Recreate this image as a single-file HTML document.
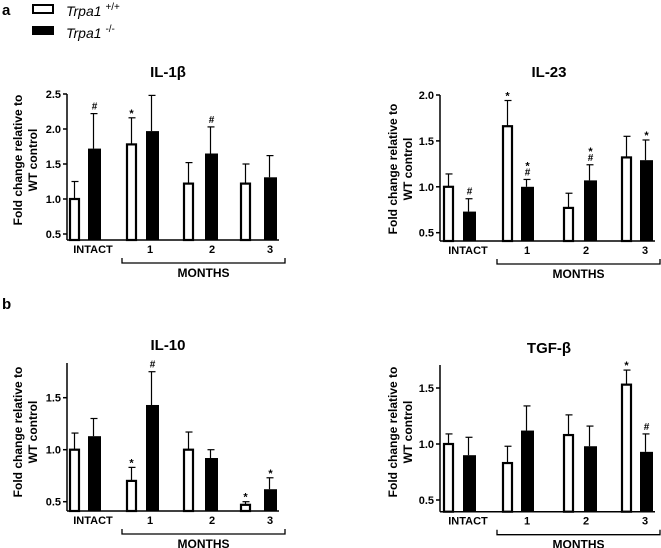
<!DOCTYPE html>
<html><head><meta charset="utf-8">
<style>
body{margin:0;background:#fff;}
svg{display:block;font-family:"Liberation Sans",Arial,sans-serif;}
</style></head>
<body>
<svg id="c" width="661" height="548" viewBox="0 0 661 548">
<text x="2" y="15" font-size="15" font-weight="bold">a</text>
<text x="2" y="309" font-size="15" font-weight="bold">b</text>
<g>
<rect x="33" y="5" width="20" height="8" fill="#fff" stroke="#000" stroke-width="2"/>
<text x="66" y="16" font-size="14" font-style="italic">Trpa1 <tspan font-size="10" dy="-6" font-style="normal">+/+</tspan></text>
<rect x="32" y="26" width="22" height="9" fill="#000"/>
<text x="66" y="38" font-size="14" font-style="italic">Trpa1 <tspan font-size="10" dy="-6" font-style="normal">-/-</tspan></text>
</g>
</svg>
<script>
// IL-1β
const il1bWT=[1.0,1.78,1.22,1.22];
const il1bWTerr=[0.25,0.38,0.30,0.28];
const il1bKO=[1.72,1.97,1.65,1.31];
const il1bKOerr=[0.50,0.51,0.38,0.31];
const il1bWTmark=["","*","",""];
const il1bKOmark=["#","","#",""];
const il1bTicks=[0.5,1.0,1.5,2.0,2.5];
// IL-23
const il23WT=[1.0,1.66,0.77,1.32];
const il23WTerr=[0.14,0.28,0.16,0.23];
const il23KO=[0.73,1.0,1.07,1.29];
const il23KOerr=[0.14,0.08,0.17,0.22];
const il23WTmark=["","*","",""];
const il23KOmark=["#","*#","*#","*"];
const il23Ticks=[0.5,1.0,1.5,2.0];
// IL-10
const il10WT=[1.0,0.70,1.0,0.47];
const il10WTerr=[0.16,0.13,0.17,0.03];
const il10KO=[1.13,1.43,0.92,0.62];
const il10KOerr=[0.17,0.32,0.08,0.11];
const il10WTmark=["","*","","*"];
const il10KOmark=["","#","","*"];
const il10Ticks=[0.5,1.0,1.5];
// TGF-β
const tgfWT=[1.0,0.83,1.08,1.53];
const tgfWTerr=[0.09,0.15,0.18,0.13];
const tgfKO=[0.90,1.12,0.98,0.93];
const tgfKOerr=[0.16,0.22,0.18,0.16];
const tgfWTmark=["","","","*"];
const tgfKOmark=["","","","#"];
const tgfTicks=[0.5,1.0,1.5];
const groupLabels=["INTACT","1","2","3"];

const NS="http://www.w3.org/2000/svg";
const svg=document.getElementById('c');
function mk(tag,attrs,parent){const e=document.createElementNS(NS,tag);for(const k in attrs)e.setAttribute(k,attrs[k]);(parent||svg).appendChild(e);return e;}

function panel(p){
  const g=mk('g',{});
  
  
  const y=v=>p.y0-(v-p.v0)*p.scale;
  const t=mk('text',{x:p.titleX,y:p.titleY,'font-size':15,'font-weight':'bold','text-anchor':'middle'},g);
  t.textContent=p.title;
  
  
  const yl=mk('text',{transform:`translate(${p.ylx},${p.yly}) rotate(-90)`,'font-size':12,'font-weight':'bold','text-anchor':'middle'},g);
  
  
  const s1=mk('tspan',{x:0,y:0},yl);s1.textContent='Fold change relative to';
  const s2=mk('tspan',{x:0,y:15},yl);s2.textContent='WT control';
  const ax=mk('line',{x1:p.axX,x2:p.axX,y1:p.axTop,y2:p.base,stroke:'#000','stroke-width':1.5},g);
  
  
  const bl=mk('line',{x1:p.axX,x2:p.axEnd,y1:p.base,y2:p.base,stroke:'#000','stroke-width':1.5},g);
  
  
  p.ticks.forEach(v=>{
    const tl=mk('line',{x1:p.axX-4,x2:p.axX,y1:y(v),y2:y(v),stroke:'#000','stroke-width':1.5},g);
    
    
    const tx=mk('text',{x:p.axX-6,y:y(v)+4,'font-size':11,'font-weight':'bold','text-anchor':'end'},g);
    tx.textContent=v.toFixed(1);
    
    
  });
  const bw=11;
  function bar(x,v,e,mark,fill,nm){
    const top=y(v);
    const eb=mk('line',{x1:x+bw/2,x2:x+bw/2,y1:top,y2:y(v+e),stroke:'#000','stroke-width':1.2},g);
    
    
    const cap=mk('line',{x1:x+bw/2-3,x2:x+bw/2+4,y1:y(v+e),y2:y(v+e),stroke:'#000','stroke-width':1.2},g);
    
    
    let r;
    if(fill==='#fff') r=mk('rect',{x:x+1,y:top,width:bw-2,height:p.base-top,fill:'#fff',stroke:'#000','stroke-width':2.2},g);
    else r=mk('rect',{x:x,y:top,width:bw+2,height:p.base-top,fill:'#000'},g);
    
    
    if(mark){
      const chars=mark.split('');
      chars.reverse().forEach((c,i)=>{
        const m=mk('text',{x:x+bw/2+(fill==='#fff'?0:1),y:y(v+e)-4-i*9+(c==='*'?3:0),'font-size':c==='*'?11:10,'font-weight':'bold','text-anchor':'middle'},g);
        m.textContent=c;
        
        
      });
    }
  }
  for(let i=0;i<4;i++){
    bar(p.wx[i],p.wt[i],p.wtErr[i],p.wtMark[i],'#fff',p.name+'-bar-wt-'+i);
    bar(p.kx[i],p.ko[i],p.koErr[i],p.koMark[i],'#000',p.name+'-bar-ko-'+i);
    const gl=mk('text',{x:p.lx[i],y:p.base+13,'font-size':11,'font-weight':'bold','text-anchor':'middle'},g);
    gl.textContent=groupLabels[i];
    
    
  }
  const br=mk('path',{d:`M${p.brL},${p.base+18} v5 H${p.brR} v-5`,fill:'none',stroke:'#000','stroke-width':1.3},g);
  
  
  const mo=mk('text',{x:(p.brL+p.brR)/2,y:p.base+37,'font-size':12,'font-weight':'bold','text-anchor':'middle'},g);
  mo.textContent='MONTHS';
  
  
}

const leftX={wx:[69,126,183,240],kx:[88,146,205,264],lx:[93,150,212,270],brL:122,brR:285,axX:67,axEnd:279,titleX:168,ylx:22};
const rightX={wx:[443,502,563,621],kx:[463,521,584,640],lx:[468,527,586,645],brL:497,brR:660,axX:440,axEnd:655,titleX:549,ylx:397};

panel(Object.assign({},leftX,{name:'il1b',title:'IL-1β',titleY:77,yly:160,y0:234,v0:0.5,scale:70,axTop:94,base:240,ticks:il1bTicks,wt:il1bWT,wtErr:il1bWTerr,ko:il1bKO,koErr:il1bKOerr,wtMark:il1bWTmark,koMark:il1bKOmark}));
panel(Object.assign({},rightX,{name:'il23',title:'IL-23',titleY:77,yly:169,y0:232.7,v0:0.5,scale:91.8,axTop:95,base:241,ticks:il23Ticks,wt:il23WT,wtErr:il23WTerr,ko:il23KO,koErr:il23KOerr,wtMark:il23WTmark,koMark:il23KOmark}));
panel(Object.assign({},leftX,{name:'il10',title:'IL-10',titleY:350,yly:432,y0:501.7,v0:0.5,scale:104,axTop:363,base:511,ticks:il10Ticks,wt:il10WT,wtErr:il10WTerr,ko:il10KO,koErr:il10KOerr,wtMark:il10WTmark,koMark:il10KOmark}));
panel(Object.assign({},rightX,{name:'tgfb',title:'TGF-β',titleY:353,yly:432,y0:500,v0:0.5,scale:112,axTop:365,base:511.7,ticks:tgfTicks,wt:tgfWT,wtErr:tgfWTerr,ko:tgfKO,koErr:tgfKOerr,wtMark:tgfWTmark,koMark:tgfKOmark}));
</script>
</body></html>
